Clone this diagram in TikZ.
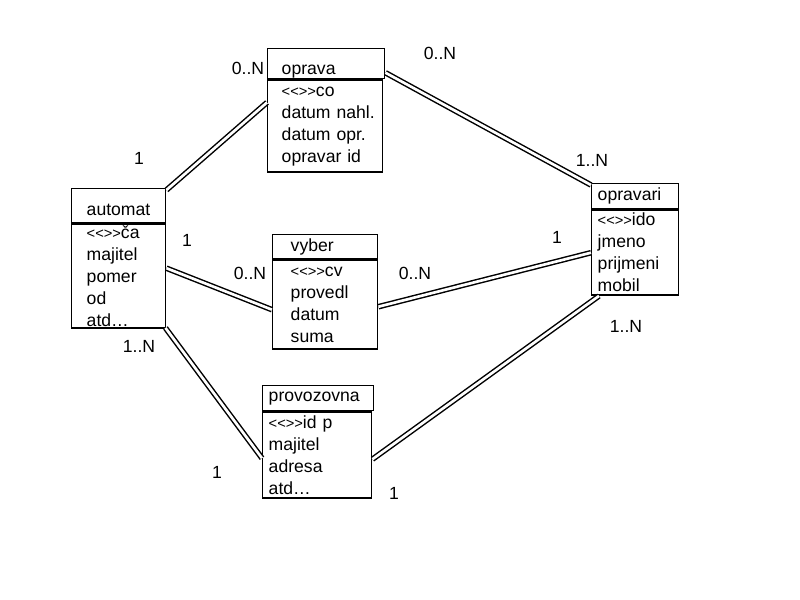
\documentclass[tikz,border=0pt]{standalone}
\usepackage{fontspec}
\newfontfamily\erfont{Liberation Sans}
\usetikzlibrary{shapes}
\tikzstyle{head} = [rectangle, draw=black, line width=1.1pt, anchor=north west, align=left, inner ysep=0pt, font=\erfont\fontsize{13.2}{16.5}\selectfont]
\tikzstyle{attrs} = [rectangle, draw=black, line width=1.1pt, anchor=north west, align=left, inner ysep=0pt, font=\erfont\fontsize{13.2}{16.5}\selectfont]
\tikzstyle{link} = [draw=black, line width=1.1pt, double=white, double distance=2pt]
\tikzstyle{card} = [inner sep=0pt, font=\erfont\fontsize{13.2}{16.5}\selectfont]
\newcommand{\pk}{{\fontsize{11}{11}\selectfont<<>>}}
\begin{document}
\begin{tikzpicture}[x=0.75pt, y=-0.75pt]
        \useasboundingbox (0,0) rectangle (800,600);
        % entity boxes: header + attributes
        \node (oprava) [head, text width=66.75pt, inner xsep=10.5pt, minimum height=22.5pt, text height=18.6pt, text depth=2.8pt] at (267,48) {oprava};
        \node (opravab) [attrs, text width=65.25pt, inner xsep=10.5pt, minimum height=69pt] at (oprava.south west) {\pk co\\datum~nahl.\\datum~opr.\\opravar~id};
        \node (automat) [head, text width=48pt, inner xsep=11.25pt, minimum height=25.5pt, text height=17.1pt, text depth=2.8pt] at (71,188) {automat};
        \node (automatb) [attrs, text width=48pt, inner xsep=11.25pt, minimum height=78pt] at (automat.south west) {\pk ča\\majitel\\pomer\\od\\atd…};
        \node (vyber) [head, text width=51.75pt, inner xsep=13.5pt, minimum height=18pt] at (272,234) {vyber};
        \node (vyberb) [attrs, text width=51.75pt, inner xsep=13.5pt, minimum height=66.75pt] at (vyber.south west) {\pk cv\\provedl\\datum\\suma};
        \node (opravari) [head, text width=56.25pt, inner xsep=4.5pt, minimum height=18.75pt] at (591,183) {opravari};
        \node (opravarib) [attrs, text width=56.25pt, inner xsep=4.5pt, minimum height=63.75pt] at (opravari.south west) {\pk ido\\jmeno\\prijmeni\\mobil};
        \node (provozovna) [head, text width=74.25pt, inner xsep=4.5pt, minimum height=18.75pt] at (262,385) {provozovna};
        \node (provozovnab) [attrs, text width=72.75pt, inner xsep=4.5pt, minimum height=64.5pt] at (provozovna.south west) {\pk id~p\\majitel\\adresa\\atd…};
        % relations
        \draw [link] ([shift={(0,2)}]automat.north east) -- ([shift={(0,23)}]opravab.north west);
        \draw [link] ([shift={(0,9)}]oprava.east) -- ([shift={(0,2)}]opravari.north west);
        \draw [link] ([shift={(0,-8)}]automatb.east) -- ([shift={(0,5)}]vyberb.west);
        \draw [link] ([shift={(0,2)}]vyberb.east) -- (opravarib.west);
        \draw [link] ([shift={(-1,-1)}]automatb.south east) -- ([shift={(0,3)}]provozovnab.west);
        \draw [link] ([shift={(0,4)}]provozovnab.east) -- ([shift={(8,0)}]opravarib.south west);
        % cardinalities
        \node (cAO) [card] at (248,68) {0..N};
        \node (cOA) [card] at (139,158) {1};
        \node (cOP) [card] at (440,53) {0..N};
        \node (cPO) [card] at (592,160) {1..N};
        \node (cAV) [card] at (187,240) {1};
        \node (cVA) [card] at (250,273) {0..N};
        \node (cVP) [card] at (415,273) {0..N};
        \node (cPV) [card] at (557,237) {1};
        \node (cPZ) [card] at (626,326) {1..N};
        \node (cAZ) [card] at (139,346) {1..N};
        \node (cZA) [card] at (217,472) {1};
        \node (cZP) [card] at (394,493) {1};
    \end{tikzpicture}
\end{document}
